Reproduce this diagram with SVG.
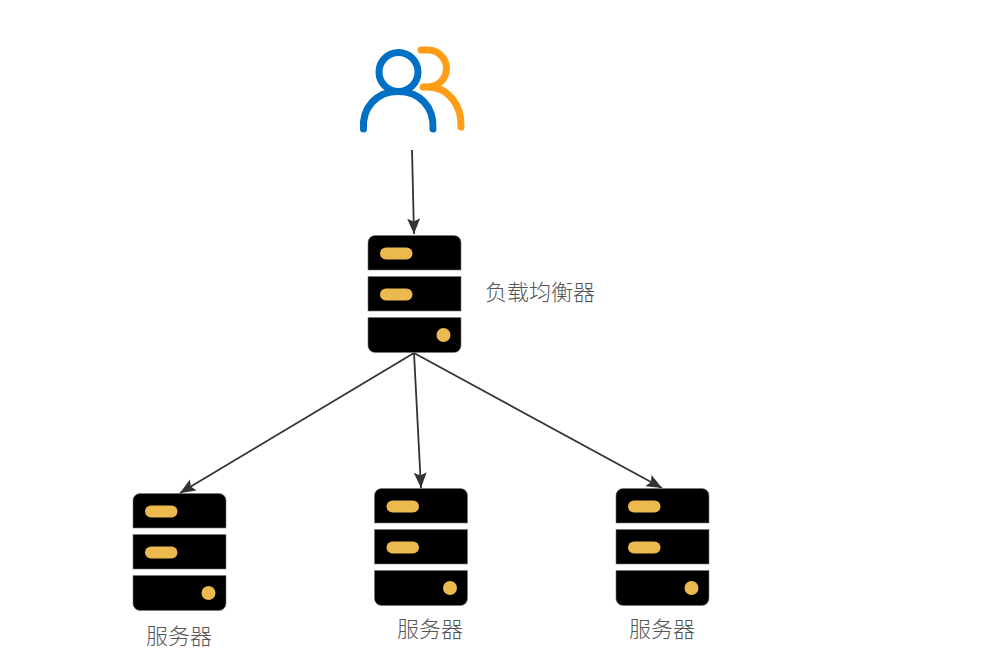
<svg xmlns="http://www.w3.org/2000/svg" width="985" height="659" viewBox="0 0 985 659">
<style>
.lbl{font-family:"Noto Sans CJK SC","Noto Sans",sans-serif;font-size:22px;font-weight:300;fill:#555}
.edge{stroke:#333;stroke-width:1.8;fill:none;marker-end:url(#arr)}
.blk{fill:#000;stroke:#777;stroke-width:.6}
.led{fill:#ecb94f}
</style>
<defs>
<marker id="arr" markerUnits="userSpaceOnUse" markerWidth="18" markerHeight="14" refX="15.500" refY="6.500" orient="auto"><path d="M0 0L15.500 6.500L0 13L3 6.500Z" fill="#333"/></marker>
<g id="srv">
<path class="blk" d="M7 0H86a7 7 0 0 1 7 7V34.500H0V7a7 7 0 0 1 7-7Z"/>
<rect class="blk" y="41" width="93" height="34.500"/>
<path class="blk" d="M0 82H93V110a7 7 0 0 1-7 7H7a7 7 0 0 1-7-7Z"/>
<rect class="led" x="12" y="12" width="32.500" height="12" rx="6"/>
<rect class="led" x="12" y="53" width="32.500" height="12" rx="6"/>
<circle class="led" cx="75.500" cy="99.500" r="7"/>
</g>
</defs>
<rect width="985" height="659" fill="#fff"/>
<g id="connectors">
<line class="edge" x1="412" y1="150" x2="414" y2="234"/>
<line class="edge" x1="414" y1="353" x2="180" y2="493"/>
<line class="edge" x1="414" y1="353" x2="421" y2="488"/>
<line class="edge" x1="414" y1="353" x2="662" y2="488"/>
</g>
<g id="users" fill="none" stroke-linecap="round" stroke-width="7">
<path stroke="#ff9d16" d="M421 50H428A18.500 18.500 0 0 1 428 87H423M428 87C447 87 462 104 461 127"/>
<circle stroke="#0070c4" cx="398.500" cy="72" r="19.500"/>
<path stroke="#0070c4" d="M363.500 129C362 107 377 91.500 398 91.500C420 91.500 434 107 433 129"/>
</g>
<g id="lb"><use href="#srv" x="368" y="235.500"/><text class="lbl" x="485" y="300">负载均衡器</text></g>
<g id="server1"><use href="#srv" x="133" y="493.500"/><text class="lbl" x="146" y="644">服务器</text></g>
<g id="server2"><use href="#srv" x="374.500" y="488.500"/><text class="lbl" x="397" y="637">服务器</text></g>
<g id="server3"><use href="#srv" x="616" y="488.500"/><text class="lbl" x="629" y="637">服务器</text></g>
</svg>
